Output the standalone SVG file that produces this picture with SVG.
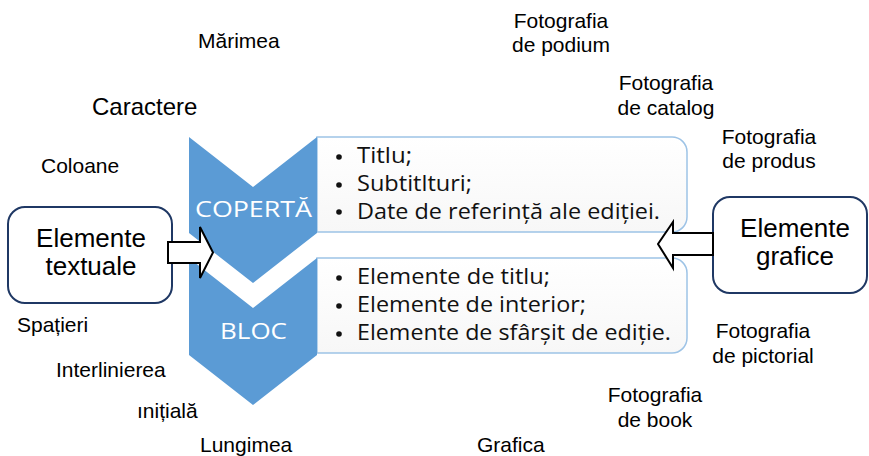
<svg xmlns="http://www.w3.org/2000/svg" width="869" height="456" viewBox="0 0 869 456">
<style>
.lbl{font-family:"Liberation Sans",Arial,sans-serif;font-size:21px;fill:#000}
.node{fill:#fff;stroke:#1f3864;stroke-width:2}
.nt{font-family:"Liberation Sans",Arial,sans-serif;font-size:26px;fill:#000;text-anchor:middle}
.chev{fill:#5b9bd5}
.ct{font-family:"Open Sans","Liberation Sans",sans-serif;font-size:21px;fill:#fff}
.box{fill:url(#bg);stroke:#9dc3e6;stroke-width:1.5}
.bt{font-family:"Open Sans","Liberation Sans",sans-serif;font-size:21px;fill:#111}
.dot{fill:#111}
.arr{fill:#fff;stroke:#000;stroke-width:2;stroke-linejoin:miter}
</style>
<defs>
<linearGradient id="bg" x1="0" y1="0" x2="0" y2="1">
<stop offset="0" stop-color="#ffffff"/>
<stop offset="1" stop-color="#f7f7f7"/>
</linearGradient>
</defs>
<rect width="869" height="456" fill="#fff"/>

<g id="labels-left">
<text class="lbl" x="198" y="48">Mărimea</text>
<text class="lbl" x="92" y="115" style="font-size:24px">Caractere</text>
<text class="lbl" x="41" y="173">Coloane</text>
<text class="lbl" x="17" y="332">Spațieri</text>
<text class="lbl" x="56" y="377">Interlinierea</text>
<text class="lbl" x="137" y="418">ınițială</text>
<text class="lbl" x="200" y="452">Lungimea</text>
</g>
<g id="labels-right" style="text-anchor:middle">
<text class="lbl" x="477" y="452" style="text-anchor:start">Grafica</text>
<text class="lbl" x="561" y="28">Fotografia</text>
<text class="lbl" x="561" y="52">de podium</text>
<text class="lbl" x="666" y="90">Fotografia</text>
<text class="lbl" x="666" y="115">de catalog</text>
<text class="lbl" x="769" y="144">Fotografia</text>
<text class="lbl" x="769" y="168">de produs</text>
<text class="lbl" x="763" y="338">Fotografia</text>
<text class="lbl" x="763" y="363">de pictorial</text>
<text class="lbl" x="655" y="402">Fotografia</text>
<text class="lbl" x="655" y="427">de book</text>
</g>

<g id="coperta">
<path class="box" d="M317,137 H672 A15,15 0 0 1 687,152 V217 A15,15 0 0 1 672,232 H317 Z"/>
<polygon class="chev" points="189,137 253,187 317,137 317,233 253,283 189,233"/>
<text class="ct" x="195" y="217" textLength="117" lengthAdjust="spacingAndGlyphs">COPERTĂ</text>
<circle class="dot" cx="339" cy="157" r="2.8"/>
<circle class="dot" cx="339" cy="185" r="2.8"/>
<circle class="dot" cx="339" cy="212" r="2.8"/>
<text class="bt" x="357" y="163" textLength="55" lengthAdjust="spacingAndGlyphs">Titlu;</text>
<text class="bt" x="357" y="191" textLength="115" lengthAdjust="spacingAndGlyphs">Subtitlturi;</text>
<text class="bt" x="357" y="219" textLength="303" lengthAdjust="spacingAndGlyphs">Date de referință ale ediției.</text>
</g>

<g id="bloc">
<path class="box" d="M317,258 H672 A15,15 0 0 1 687,273 V338 A15,15 0 0 1 672,353 H317 Z"/>
<polygon class="chev" points="189,258 253,308 317,258 317,355 253,405 189,355"/>
<text class="ct" x="220" y="339" textLength="67" lengthAdjust="spacingAndGlyphs">BLOC</text>
<circle class="dot" cx="339" cy="278" r="2.8"/>
<circle class="dot" cx="339" cy="306" r="2.8"/>
<circle class="dot" cx="339" cy="334" r="2.8"/>
<text class="bt" x="357" y="284" textLength="193" lengthAdjust="spacingAndGlyphs">Elemente de titlu;</text>
<text class="bt" x="357" y="312" textLength="229" lengthAdjust="spacingAndGlyphs">Elemente de interior;</text>
<text class="bt" x="357" y="340" textLength="314" lengthAdjust="spacingAndGlyphs">Elemente de sfârșit de ediție.</text>
</g>

<g id="elemente-textuale">
<rect class="node" x="8" y="207" width="164" height="96" rx="17"/>
<text class="nt" x="91" y="247">Elemente</text>
<text class="nt" x="91" y="275">textuale</text>
</g>

<g id="elemente-grafice">
<rect class="node" x="713" y="197" width="154" height="96" rx="17"/>
<text class="nt" x="795" y="237">Elemente</text>
<text class="nt" x="795" y="265">grafice</text>
</g>

<g id="connectors">
<polygon class="arr" points="168,242 200,242 200,227 213,252.5 200,278 200,263 168,263"/>
<polygon class="arr" points="713,233 673,233 673,222 658,244 673,268 673,255 713,255"/>
</g>
</svg>
